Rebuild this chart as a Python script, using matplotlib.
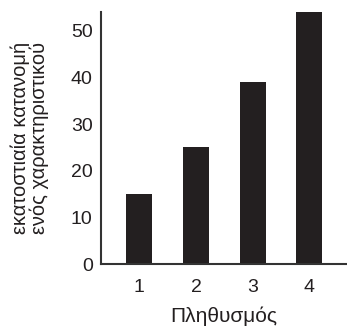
import matplotlib
matplotlib.use("Agg")
import matplotlib.pyplot as plt

plt.rcParams['font.family'] = ['Liberation Sans', 'DejaVu Sans']

populations = [1, 2, 3, 4]
percentages = [15, 25, 39, 54]
y_ticks = [0, 10, 20, 30, 40, 50]

fig = plt.figure(figsize=(3.47, 3.33), dpi=100)
ax = fig.add_axes([0.291, 0.207, 0.709, 0.757])

ax.bar(populations, percentages, width=0.46, color='#231f20')

ax.set_xlim(0.32, 4.67)
ax.set_ylim(0, 54)
ax.set_xticks(populations)
ax.set_yticks(y_ticks)
ax.tick_params(length=0, labelsize=14, colors='#231f20')
ax.tick_params(axis='x', pad=11)
ax.tick_params(axis='y', pad=6)

for s in ['top', 'right']:
    ax.spines[s].set_visible(False)
for s in ['left', 'bottom']:
    ax.spines[s].set_linewidth(1.5)
    ax.spines[s].set_color('#333333')

ax.set_xlabel('Πληθυσμός', fontsize=15, color='#231f20', labelpad=7)
ax.set_ylabel('εκατοστιαία κατανομή\nενός χαρακτηριστικού', fontsize=14.5,
              color='#231f20', labelpad=16, linespacing=0.95)

fig.savefig('out.png', dpi=100)
